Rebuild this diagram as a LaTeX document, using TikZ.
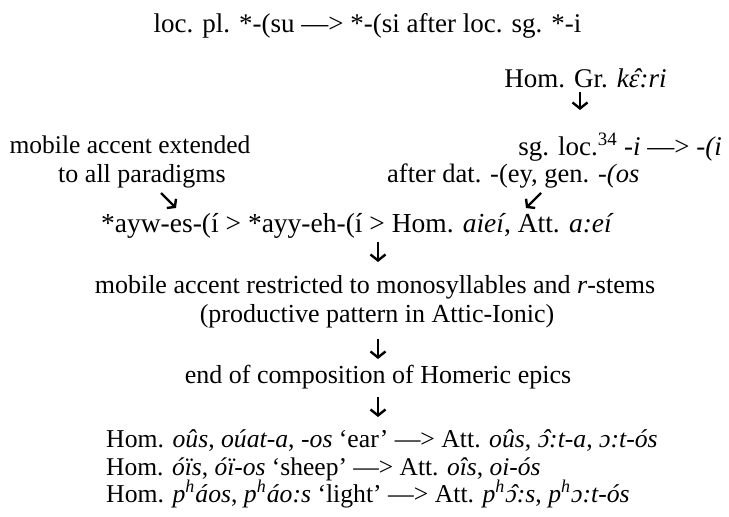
\documentclass[tikz,border=0pt]{standalone}
\usepackage{fontspec}
\setmainfont{Liberation Serif}
\usetikzlibrary{arrows.meta}
\newcommand\circhat[1]{{\ooalign{#1\cr\hidewidth\hspace{0.2em}ˆ\hidewidth\cr}}}
\newcommand\fs[1]{\fontsize{#1}{30}\selectfont}
\newcommand\asp{\textsuperscript{h}\kern0.5pt}
\tikzset{
  txt/.style={inner sep=0pt, anchor=base, font=\fs{26}},
  txtl/.style={txt, anchor=base west},
  arr/.style={line width=2.4pt, -{Straight Barb[length=6pt,width=15pt,line width=2.4pt]}},
  darr/.style={line width=2.4pt, -{Straight Barb[length=5pt,width=13pt,line width=2.4pt]}}
}
\begin{document}
\begin{tikzpicture}[x=1pt,y=-1pt]
\useasboundingbox (0,0) rectangle (729,517);
\node[txt, font=\fs{27}] (top) at (367.5,32) {loc. pl. *-(su —> *-(si after loc. sg. *-i};
\node[txt, font=\fs{27}] (homgr) at (585.5,87) {Hom. Gr. \textit{k\circhat{ɛ}:ri}};
\node[txt, font=\fs{27}, anchor=base east] (sgloc) at (722,155) {sg. loc.\textsuperscript{34} \textit{-i} —> \textit{-(i}};
\node[txt, font=\fs{25.5}] (mob1) at (130,153) {mobile accent extended};
\node[txt] (mob2) at (142,182) {to all paradigms};
\node[txt, font=\fs{26.5}, anchor=base west] (after) at (387,182) {after dat. -(ey, gen. \textit{-(os}};
\node[txt, font=\fs{27.5}] (ayw) at (357.5,232) {*ayw-es-(í > *ayy-eh-(í > Hom. \textit{aieí}, Att. \textit{a:eí}};
\node[txt] (restr) at (375,293) {mobile accent restricted to monosyllables and \textit{r}-stems};
\node[txt] (prod) at (377,322) {(productive pattern in Attic-Ionic)};
\node[txt] (endc) at (378,383) {end of composition of Homeric epics};
\node[txtl, font=\fs{25.7}] (ear) at (106,447) {Hom. \textit{oûs}, \textit{oúat-a}, \textit{-os} ‘ear’ —> Att. \textit{oûs}, \textit{\circhat{ɔ}:t-a}, \textit{ɔ:t-ós}};
\node[txtl, font=\fs{25.5}] (sheep) at (106,475) {Hom. \textit{óïs}, \textit{óï-os} ‘sheep’ —> Att. \textit{oîs}, \textit{oi-ós}};
\node[txtl, font=\fs{25.7}] (light) at (106,502) {Hom. \textit{p\asp áos}, \textit{p\asp áo:s} ‘light’ —> Att. \textit{p\asp\circhat{ɔ}:s}, \textit{p\asp ɔ:t-ós}};
\coordinate (a1s) at (580,92);  \coordinate (a1e) at (580,110);
\coordinate (a2s) at (161,193); \coordinate (a2e) at (176,208);
\coordinate (a3s) at (541,193); \coordinate (a3e) at (526,208);
\coordinate (a4s) at (378,242); \coordinate (a4e) at (378,262);
\coordinate (a5s) at (378,339); \coordinate (a5e) at (378,359);
\coordinate (a6s) at (378,397); \coordinate (a6e) at (378,417);
\draw[arr] (a1s) -- (a1e);
\draw[darr] (a2s) -- (a2e);
\draw[darr] (a3s) -- (a3e);
\draw[arr] (a4s) -- (a4e);
\draw[arr] (a5s) -- (a5e);
\draw[arr] (a6s) -- (a6e);
\end{tikzpicture}
\end{document}
